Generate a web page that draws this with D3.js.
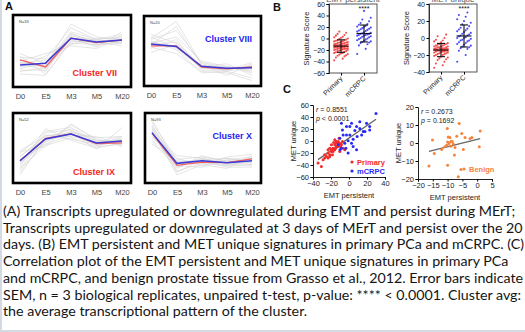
<!DOCTYPE html>
<html>
<head>
<meta charset="utf-8">
<script src="https://cdn.jsdelivr.net/npm/d3@7"></script>
<style>
  body { margin: 0; background: #fff; }
  svg { display: block; font-family: "Liberation Sans", Arial, sans-serif; }
</style>
</head>
<body>
<svg id="fig" width="525" height="332"></svg>
<script>
// ---------- panel A data (scaled expression, avg + individual transcripts) ----------
const timepoints = ['D0', 'E5', 'M3', 'M5', 'M20'];
const clusterNames = ['Cluster VII', 'Cluster VIII', 'Cluster IX', 'Cluster X'];
const clusterN = ['N=33', 'N=20', 'N=52', 'N=93'];
const clusterColors = ['#f52525', '#2424f0', '#f52525', '#2424f0'];

const avgBlue = [
  [-1.1, -0.95, 1.0, 0.7, 0.85],
  [0.55, 0.35, -1.2, -1.35, -1.3],
  [-1.0, 0.7, 1.1, 0.4, 0.55],
  [1.2, -1.2, -1.0, -1.15, -1.0]
];
const avgRed = [
  [-0.7, -1.25, 1.0, 0.65, 0.85],
  [0.4, 0.4, -1.25, -1.4, -1.25],
  [-1.0, 0.75, 1.1, 0.35, 0.4],
  [1.15, -1.35, -1.1, -1.15, -0.85]
];
const grayVII = [
  [-0.5, -0.6, 1.8, 0.9, 1.1], [-1.6, -1.3, 0.6, 0.5, 0.6], [-0.9, -1.6, 1.3, 0.8, 0.7],
  [-1.3, -0.4, 0.9, 0.4, 1.2], [-0.2, -1.0, 1.5, 0.9, 0.6], [-1.8, -1.9, 0.8, 0.6, 0.9],
  [-1.0, -0.7, 0.5, 1.0, 0.9], [-0.7, -1.4, 1.1, 0.3, 1.5], [-1.4, -0.9, 1.2, 0.7, 0.4],
  [-0.4, -1.8, 0.7, 0.8, 0.8], [-1.2, -1.1, 2.1, 1.1, 0.9], [-0.8, -0.2, 0.4, 0.2, 1.0],
  [-1.5, -1.5, 1.0, 0.9, 1.3], [-0.9, -1.2, 1.4, 0.5, 0.7]
];
const grayVIII = [
  [1.0, 2.3, -1.0, -1.4, -1.2], [0.9, 1.6, -0.9, -1.3, -1.5], [0.2, 0.9, -1.5, -1.5, -1.1],
  [1.3, 0.6, -1.3, -1.2, -1.6], [0.3, -0.2, -1.6, -1.7, -2.3], [0.7, 0.3, -1.1, -1.9, -1.0],
  [-0.1, 0.5, -1.4, -1.3, -1.4], [0.6, 1.1, -0.8, -1.2, -1.7], [0.8, 0.1, -1.7, -1.6, -1.2],
  [0.4, 0.7, -1.2, -1.0, -1.9], [1.1, 0.2, -1.3, -1.5, -0.9], [0.5, 1.9, -1.1, -1.6, -2.1]
];
const grayIX = [
  [-0.4, 1.3, 1.6, 0.5, 0.9], [-1.6, 0.2, 0.8, 0.1, 0.3], [-1.9, 0.6, 1.3, 0.6, 0.4],
  [-0.7, 1.0, 0.7, 0.3, 0.8], [-1.2, 0.4, 1.8, 0.7, 0.2], [-0.2, 0.9, 1.2, -0.1, 1.6],
  [-2.1, 0.8, 0.9, 0.5, 0.6], [-1.3, 1.2, 1.4, 0.2, 0.5], [-0.9, 0.3, 1.0, 0.9, 0.1],
  [-0.6, 0.7, 1.5, 0.4, 0.7], [-1.5, 1.5, 0.6, 0.0, 0.4], [-1.1, 0.5, 1.2, 0.8, 0.9],
  [-0.3, 0.1, 1.9, 0.6, 0.3], [-1.7, 1.0, 1.1, 0.2, 0.6]
];
const grayX = [
  [2.0, -0.9, -0.7, -1.0, -0.8], [1.6, -1.8, -1.2, -1.4, -1.3], [0.6, -1.1, -0.9, -0.8, -1.2],
  [1.4, -2.1, -1.3, -1.6, -0.6], [0.9, -0.6, -0.8, -1.2, -1.4], [1.8, -1.4, -1.5, -0.9, -0.7],
  [0.3, -1.0, -1.1, -1.3, -1.1], [1.1, -1.6, -0.6, -1.1, -0.9], [2.2, -1.3, -1.0, -1.5, -1.5],
  [0.8, -0.8, -1.4, -0.7, -0.5], [1.3, -1.9, -0.9, -1.2, -1.0], [1.5, -1.2, -1.2, -1.0, -1.3],
  [0.5, -1.5, -0.8, -1.4, -0.8], [1.7, -1.1, -1.1, -0.8, -1.1]
];
const grayLines = [grayVII, grayVIII, grayIX, grayX];

// ---------- panel B data (signature scores) ----------
const groups = ['Primary', 'mCRPC'];
const emtPrimary = [-38, -35, -33, -31, -30, -29, -28, -27, -26, -25, -25, -24, -23, -22, -22, -21, -20, -20,
  -19, -19, -18, -18, -17, -17, -16, -16, -15, -15, -15, -14, -14, -13, -13, -13, -12, -12, -12, -11, -11,
  -10, -10, -10, -9, -9, -8, -8, -7, -7, -6, -6, -5, -5, -4, -3, -3, -2, -1, 0, 1, 2, 3, 5, 6, 8, 10, 12,
  -14, -16, -18, -20];
const emtMcrpc = [-27, -18, -12, -10, -8, -7, -5, -4, -3, -2, -1, 0, 1, 2, 3, 4, 5, 6, 6, 7, 8, 9, 10, 11, 12,
  13, 14, 15, 16, 17, 18, 19, 20, 21, 22, 24, 25, 27, 30, 33, 36, 48, 8, 5, -6];
const metPrimary = [-35, -32, -30, -28, -26, -25, -24, -23, -22, -21, -20, -20, -19, -19, -18, -18, -17, -17,
  -17, -16, -16, -16, -15, -15, -15, -15, -14, -14, -14, -14, -13, -13, -13, -13, -12, -12, -12, -11, -11,
  -11, -10, -10, -10, -9, -9, -8, -8, -7, -7, -6, -5, -4, -3, -2, 0, 2, 4, -15, -13, -14];
const metMcrpc = [-28, -20, -15, -13, -12, -10, -9, -8, -7, -6, -5, -4, -3, -2, -1, 0, 0, 1, 2, 3, 4, 5, 6, 7,
  8, 9, 10, 11, 12, 14, 16, 18, 20, 22, 25, 27, 30, -11, 3, -3];
const emtTicks = [-60, -40, -20, 0, 20, 40, 60];
const metTicks = [-40, -20, 0, 20, 40];
const starLevel = [53, 35];

// ---------- panel C data (EMT persistent vs MET unique) ----------
const corrPrimary = [[-34.4, -36.8], [-30.7, -42.3], [-27, -28.5], [-23.3, -28.5], [-21.4, -23], [-23.3, -20],
  [-19.5, -17.4], [-17.7, -12], [-15.8, -6.4], [-14, -3.6], [-12, -0.8], [-10.2, -3.6], [-8.4, -6.4], [-14, -9],
  [-17.7, -17.4], [-21.4, -25.7], [-25, -25.7], [-19.5, -6.4], [-15.8, -14.6], [-12, -9], [-11, 4.7],
  [-4.7, -14.6], [-15.8, 2], [-14, -0.8], [-9.5, -9], [-6.5, -12], [-21.4, -12], [-18.4, -23], [-27, -23],
  [-28.8, -31.3], [-17, -2.4], [-12, -4.7], [-7.3, -0.8], [-19.5, -14.6], [-23.3, -14.6], [-14.8, -12],
  [-10.2, -17.4]];
const corrMcrpc = [[30, 46], [-8.4, 29.6], [2.8, 29.6], [0.9, 24], [8.4, 24], [12, 21], [23, 24], [23, 18.5],
  [17.7, 15.8], [14, 10], [9, 7.5], [4.6, 3], [-1, 0.3], [-4.7, -3.6], [-7.3, 18.5], [-6.5, 10.2], [-2.8, 10.2],
  [-10.2, 4.7], [-12, -6.4], [-8.4, -12], [4.6, -9], [8.4, -14.6], [-1, -20], [2.8, -3.6], [19.5, 29.6],
  [12, 32], [6.5, 17.4], [-2.8, 24], [-10, -14.6], [-3.5, -12], [0.9, 10.2], [15.8, 15.8]];
const corrBenign = [[-10.1, 8.0], [-6.1, 10.8], [-15.1, 1.6], [-14.5, -5.8], [-16.3, -12.8], [-10, -12.3],
  [-5.5, -14.7], [-6.4, -18.7], [1.0, 6.7], [0.7, -2.1], [-1.8, 3.0], [-2.4, 2.5], [-5.2, 5.3], [-4.1, 3.0],
  [-6.9, 3.8], [-4.7, -3.6], [-7.7, -6.7], [-12.0, -3.6], [-10.9, -2.1], [-9.8, 3.4], [-9.2, 3.0], [-10, 0.6],
  [-8.9, 0.9], [-8.4, 0.9], [-9.5, -0.3], [-8.1, -0.6], [-8.9, -1.8], [-7.5, -2.5], [-10.3, -1.2]];
const c1TicksX = [-40, -20, 0, 20, 40];
const c1TicksY = [-60, -40, -20, 0, 20, 40, 60];
const c2TicksX = [-20, -15, -10, -5, 0, 5];
const c2TicksY = [-20, -10, 0, 10, 20];
const statsC1 = ['r = 0.8551', 'p < 0.0001'];
const statsC2 = ['r = 0.2673', 'p = 0.1692'];

const caption = [
  '(A) Transcripts upregulated or downregulated during EMT and persist during MErT;',
  'Transcripts upregulated or downregulated at 3 days of MErT and persist over the 20',
  'days. (B) EMT persistent and MET unique signatures in primary PCa and mCRPC. (C)',
  'Correlation plot of the EMT persistent and MET unique signatures in primary PCa',
  'and mCRPC, and benign prostate tissue from  Grasso et al., 2012. Error bars indicate',
  'SEM, n = 3 biological replicates, unpaired t-test, p-value: **** < 0.0001. Cluster avg:',
  'the average transcriptional pattern of the cluster.'
];

const RED = '#f52a2a', BLUE = '#2a2af5', ORANGE = '#f4843c';

const svg = d3.select('#fig');

// faint page edge
svg.append('line').attr('x1', 1).attr('x2', 1).attr('y1', 0).attr('y2', 332)
  .attr('stroke', '#d3dae3').attr('stroke-width', 2);
svg.append('line').attr('x1', 0).attr('x2', 525).attr('y1', 331).attr('y2', 331)
  .attr('stroke', '#d3dae3').attr('stroke-width', 2);

function panelLetter(t, x, y) {
  svg.append('text').attr('x', x).attr('y', y).text(t)
    .attr('font-size', 11).attr('font-weight', 'bold').attr('fill', '#111');
}

// ---------- panel A ----------
panelLetter('A', 5, 10);

const boxes = [
  { x: 13, y: 15, w: 118, h: 72, lx: 14, ly: 76 },
  { x: 144, y: 16, w: 117, h: 70, lx: 9, ly: 42 },
  { x: 13, y: 113, w: 118, h: 70, lx: 16, ly: 175 },
  { x: 145, y: 113, w: 116, h: 70, lx: 9, ly: 139 }
];

boxes.forEach((b, k) => {
  const g = svg.append('g');
  const x = d3.scalePoint().domain(timepoints).range([b.x + 7, b.x + b.w - 9]);
  const cy = b.y + b.h / 2;
  const y = d3.scaleLinear().domain([-2.5, 2.5]).range([cy + 32, cy - 32]);
  const line = d3.line().x((d, i) => x(timepoints[i])).y(d => y(d));

  g.append('rect').attr('x', b.x).attr('y', b.y).attr('width', b.w).attr('height', b.h).attr('fill', '#fff');

  g.selectAll('.gl').data(grayLines[k]).enter().append('path')
    .attr('d', line).attr('fill', 'none').attr('stroke', '#d4d4d4').attr('stroke-width', 0.6);

  g.append('path').attr('d', line(avgRed[k])).attr('fill', 'none')
    .attr('stroke', '#f26060').attr('stroke-width', 1.3);
  g.append('path').attr('d', line(avgBlue[k])).attr('fill', 'none')
    .attr('stroke', '#3b3bd6').attr('stroke-width', 1.5);

  g.append('rect').attr('x', b.x).attr('y', b.y).attr('width', b.w).attr('height', b.h)
    .attr('fill', 'none').attr('stroke', '#000').attr('stroke-width', 2.6);

  g.append('text').attr('x', b.x + 6).attr('y', b.y + 8).text(clusterN[k])
    .attr('font-size', 4).attr('fill', '#444');

  g.append('text').attr('x', b.x + b.w - b.lx).attr('y', b.ly).text(clusterNames[k])
    .attr('text-anchor', 'end').attr('font-size', 9).attr('font-weight', 'bold')
    .attr('fill', clusterColors[k]);

  const ax = g.append('g').attr('transform', `translate(0,${b.y + b.h + 3})`)
    .call(d3.axisBottom(x).tickSize(0).tickPadding(4));
  ax.select('.domain').remove();
  ax.selectAll('text').attr('font-size', 7.5).attr('fill', '#444')
    .attr('font-family', '"Liberation Sans", Arial, sans-serif');
});

// ---------- panel B ----------
panelLetter('B', 273, 11);

function dotPlot(o) {
  const g = svg.append('g');
  const y = d3.scaleLinear().domain(o.domain).range([o.bottom, o.top]);
  const x = d3.scalePoint().domain(groups).range([o.left + 12, o.right - 13]);

  // title mostly cropped at the top edge, as in the source figure
  g.append('text').attr('x', (o.left + o.right) / 2).attr('y', 1.5).text(o.title)
    .attr('text-anchor', 'middle').attr('font-size', 8).attr('fill', '#555');

  g.append('rect').attr('x', o.left).attr('y', o.top).attr('width', o.right - o.left)
    .attr('height', o.bottom - o.top).attr('fill', 'none').attr('stroke', '#444').attr('stroke-width', 0.9);

  const ya = g.append('g').attr('transform', `translate(${o.left},0)`)
    .call(d3.axisLeft(y).tickValues(o.ticks).tickSize(2.5).tickPadding(1.5));
  ya.select('.domain').attr('stroke', '#333');
  ya.selectAll('text').attr('font-size', 7).attr('fill', '#222')
    .attr('font-family', '"Liberation Sans", Arial, sans-serif');

  const xa = g.append('g').attr('transform', `translate(0,${o.bottom})`)
    .call(d3.axisBottom(x).tickSize(2.5).tickFormat(''));
  xa.select('.domain').remove();

  g.selectAll('.xl').data(groups).enter().append('text')
    .attr('transform', d => `translate(${x(d) + 2},${o.bottom + 6}) rotate(-45)`)
    .attr('text-anchor', 'end').attr('font-size', 7).attr('fill', '#222').text(d => d);

  g.append('text').attr('transform', `translate(${o.left - 20},${(o.top + o.bottom) / 2}) rotate(-90)`)
    .attr('text-anchor', 'middle').attr('font-size', 7.5).attr('fill', '#222').text('Signature Score');

  [[o.a, RED, 'Primary'], [o.b, BLUE, 'mCRPC']].forEach(([vals, col, grp]) => {
    const sorted = vals.slice().sort((p, q) => p - q);
    g.selectAll(null).data(sorted).enter().append('circle')
      .attr('cx', (d, i) => x(grp) + (((i * 5) % 9) - 4) * 1.7)
      .attr('cy', d => y(d)).attr('r', 1.05).attr('fill', col).attr('fill-opacity', 0.85);

    const m = d3.mean(vals), s = d3.deviation(vals), cx = x(grp);
    const eb = g.append('g').attr('stroke', '#111').attr('stroke-width', 1.1);
    eb.append('line').attr('x1', cx).attr('x2', cx).attr('y1', y(m - s)).attr('y2', y(m + s));
    eb.append('line').attr('x1', cx - 7.5).attr('x2', cx + 7.5).attr('y1', y(m)).attr('y2', y(m));
    [m - s, m + s].forEach(v => eb.append('line').attr('x1', cx - 4).attr('x2', cx + 4)
      .attr('y1', y(v)).attr('y2', y(v)));
  });

  g.append('text').attr('x', x('mCRPC')).attr('y', y(o.star) + 3).text('****')
    .attr('text-anchor', 'middle').attr('font-size', 7).attr('fill', '#111');
}

dotPlot({ left: 329, right: 377, top: 4, bottom: 73, domain: [-60, 60], ticks: emtTicks,
  a: emtPrimary, b: emtMcrpc, star: starLevel[0], title: 'EMT persistent' });
dotPlot({ left: 429, right: 477, top: 4, bottom: 72, domain: [-40, 40], ticks: metTicks,
  a: metPrimary, b: metMcrpc, star: starLevel[1], title: 'MET unique' });

// ---------- panel C ----------
panelLetter('C', 283, 93);

function scatter(o) {
  const g = svg.append('g');
  const x = d3.scaleLinear().domain(o.xd).range([o.left, o.right]);
  const y = d3.scaleLinear().domain(o.yd).range([o.bottom, o.top]);

  const xa = g.append('g').attr('transform', `translate(0,${o.bottom})`)
    .call(d3.axisBottom(x).tickValues(o.xt).tickSize(2.5).tickPadding(1.5));
  const ya = g.append('g').attr('transform', `translate(${o.left},0)`)
    .call(d3.axisLeft(y).tickValues(o.yt).tickSize(2.5).tickPadding(1.5));
  [xa, ya].forEach(a => {
    a.select('.domain').attr('stroke', '#222').attr('stroke-width', 1);
    a.selectAll('text').attr('font-size', 7.5).attr('fill', '#222')
      .attr('font-family', '"Liberation Sans", Arial, sans-serif');
  });

  g.append('text').attr('transform', `translate(${o.left - 17},${(o.top + o.bottom) / 2}) rotate(-90)`)
    .attr('text-anchor', 'middle').attr('font-size', 7.5).attr('fill', '#222').text('MET unique');
  g.append('text').attr('x', (o.left + o.right) / 2).attr('y', o.bottom + 21)
    .attr('text-anchor', 'middle').attr('font-size', 7.5).attr('fill', '#222').text('EMT persistent');

  // least-squares line over all points
  const all = o.sets.flatMap(s => s.pts);
  const mx = d3.mean(all, d => d[0]), my = d3.mean(all, d => d[1]);
  const slope = d3.sum(all, d => (d[0] - mx) * (d[1] - my)) / d3.sum(all, d => (d[0] - mx) ** 2);
  const [x0, x1] = d3.extent(all, d => d[0]);
  g.append('line').attr('x1', x(x0)).attr('x2', x(x1))
    .attr('y1', y(my + slope * (x0 - mx))).attr('y2', y(my + slope * (x1 - mx)))
    .attr('stroke', '#666').attr('stroke-width', 1.3);

  o.sets.forEach(s => {
    g.selectAll(null).data(s.pts).enter().append('circle')
      .attr('cx', d => x(d[0])).attr('cy', d => y(d[1])).attr('r', 1.5).attr('fill', s.color);
  });

  o.stats.forEach((t, i) => {
    const [a, b] = t.split(/ (.*)/);
    const tx = g.append('text').attr('x', o.left + 3).attr('y', o.top + 7 + i * 8.5)
      .attr('font-size', 7).attr('fill', '#222');
    tx.append('tspan').attr('font-style', 'italic').text(a);
    tx.append('tspan').text(' ' + b);
  });

  o.sets.forEach((s, i) => {
    g.append('circle').attr('cx', o.legX).attr('cy', o.legY + i * 9).attr('r', 1.6).attr('fill', s.color);
    g.append('text').attr('x', o.legX + 5).attr('y', o.legY + i * 9 + 3).text(s.name)
      .attr('font-size', 7.5).attr('font-weight', 'bold').attr('fill', s.color);
  });
}

scatter({ left: 313, right: 385, top: 105, bottom: 177, xd: [-40, 40], yd: [-60, 60],
  xt: c1TicksX, yt: c1TicksY, stats: statsC1, legX: 352, legY: 162,
  sets: [{ name: 'Primary', color: RED, pts: corrPrimary }, { name: 'mCRPC', color: BLUE, pts: corrMcrpc }] });
scatter({ left: 418, right: 492, top: 107, bottom: 179, xd: [-20, 5], yd: [-20, 20],
  xt: c2TicksX, yt: c2TicksY, stats: statsC2, legX: 464, legY: 169,
  sets: [{ name: 'Benign', color: ORANGE, pts: corrBenign }] });

// ---------- caption ----------
const cap = svg.append('g').attr('font-family', 'Lato, "Open Sans", sans-serif').attr('fill', '#151515');
const capLines = cap.selectAll('text').data(caption).enter().append('text')
  .attr('x', 3).attr('y', (d, i) => 216 + i * 16.7).attr('font-size', 13).text(d => d);
const w2 = capLines.nodes()[1].getComputedTextLength();
capLines.attr('font-size', 13 * 520 / w2);
</script>
</body>
</html>
